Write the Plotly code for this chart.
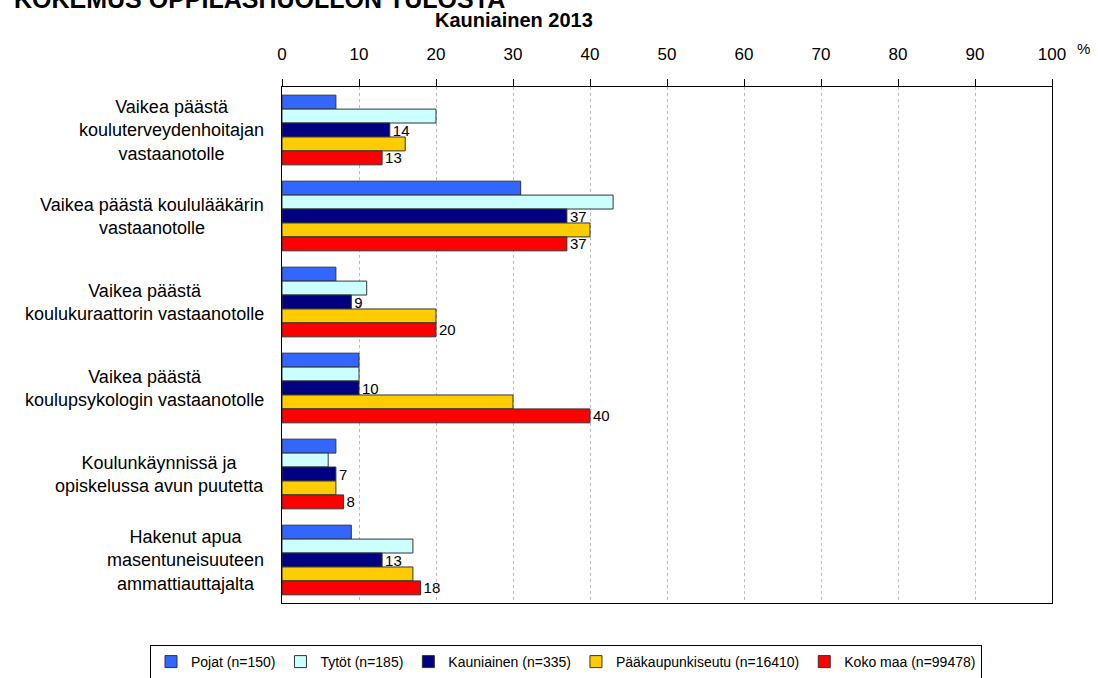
import plotly.graph_objects as go

categories = [
    "Vaikea päästä<br>kouluterveydenhoitajan<br>vastaanotolle",
    "Vaikea päästä koululääkärin<br>vastaanotolle",
    "Vaikea päästä<br>koulukuraattorin vastaanotolle",
    "Vaikea päästä<br>koulupsykologin vastaanotolle",
    "Koulunkäynnissä ja<br>opiskelussa avun puutetta",
    "Hakenut apua<br>masentuneisuuteen<br>ammattiauttajalta",
]
series_names = ["Pojat (n=150)", "Tytöt (n=185)", "Kauniainen (n=335)",
                "Pääkaupunkiseutu (n=16410)", "Koko maa (n=99478)"]
pojat = [7, 31, 7, 10, 7, 9]
tytot = [20, 43, 11, 10, 6, 17]
kauniainen = [14, 37, 9, 10, 7, 13]
paakaupunkiseutu = [16, 40, 20, 30, 7, 17]
koko_maa = [13, 37, 20, 40, 8, 18]
show_labels = [False, False, True, False, True]
colors = ["#3366FF", "#CCFFFF", "#000080", "#FFCC00", "#FF0000"]
x_ticks = list(range(0, 101, 10))

values = [pojat, tytot, kauniainen, paakaupunkiseutu, koko_maa]
font = "Liberation Sans, Arial, sans-serif"

fig = go.Figure()
for name, vals, col, lab in zip(series_names, values, colors, show_labels):
    fig.add_trace(go.Bar(
        y=categories, x=vals, name=name, orientation="h",
        marker=dict(color=col, line=dict(color="#333333", width=1)),
        text=[str(v) for v in vals] if lab else None,
        textposition="outside" if lab else "none",
        textfont=dict(size=15, color="black", family=font),
        constraintext="none",
        cliponaxis=False,
    ))

L, R, T, B = 282, 46, 87, 75
W, H = 1098, 678
pw = W - L - R
ph = H - T - B

def px_x(p):
    return (p - L) / pw

def px_y(p):
    return (H - B - p) / ph

for c in categories:
    fig.add_annotation(x=px_x(266), y=c, xref="paper", yref="y", text=c,
                       showarrow=False, xanchor="right", align="center",
                       font=dict(size=18, color="black", family=font))

fig.add_annotation(x=px_x(514), y=px_y(20), xref="paper", yref="paper",
                   text="<b>Kauniainen 2013</b>", showarrow=False,
                   xanchor="center", yanchor="middle",
                   font=dict(size=20, color="black", family=font))
fig.add_annotation(x=px_x(12), y=px_y(-1), xref="paper", yref="paper",
                   text="<b>KOKEMUS OPPILASHUOLLON TULOSTA</b>", showarrow=False,
                   xanchor="left", yanchor="middle",
                   font=dict(size=25, color="black", family=font))
fig.add_annotation(x=px_x(1083), y=px_y(48), xref="paper", yref="paper",
                   text="%", showarrow=False, xanchor="center", yanchor="middle",
                   font=dict(size=15, color="black", family=font))

fig.update_layout(
    width=W, height=H,
    margin=dict(l=L, r=R, t=T, b=B, autoexpand=False),
    paper_bgcolor="white", plot_bgcolor="white",
    barmode="group", bargap=0.19, bargroupgap=0,
    font=dict(family=font, size=16, color="black"),
    showlegend=True,
    legend=dict(orientation="h", x=px_x(150), y=px_y(662), xanchor="left",
                yanchor="middle", bordercolor="black", borderwidth=1,
                font=dict(size=14, family=font), traceorder="normal",
                itemwidth=30, tracegroupgap=0),
    xaxis=dict(side="top", range=[0, 100], tickvals=x_ticks,
               showgrid=True, gridcolor="#BBBBBB", griddash="dot", gridwidth=1,
               showline=True, linecolor="black", linewidth=1, mirror=True,
               ticks="outside", ticklen=7, tickcolor="black",
               ticklabelstandoff=12,
               tickfont=dict(size=17, family=font), zeroline=False),
    yaxis=dict(autorange="reversed", showticklabels=False, showline=True,
               linecolor="black", linewidth=1, mirror=True, ticks="",
               showgrid=False),
)

fig.write_html("out.html", config={"displayModeBar": False},
               post_script="document.body.style.margin='0';document.body.style.overflow='hidden';")
